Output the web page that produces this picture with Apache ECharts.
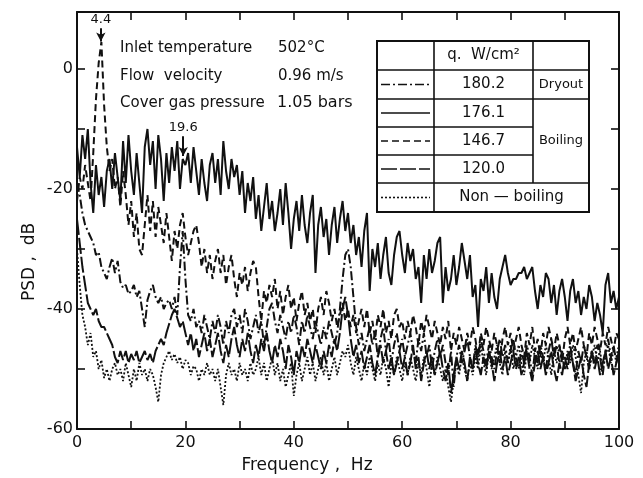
<!DOCTYPE html>
<html>
<head>
<meta charset="utf-8">
<script src="https://cdn.jsdelivr.net/npm/echarts@6/dist/echarts.min.js"></script>
<style>
  html, body { margin: 0; padding: 0; background: #fff; }
  #chart { width: 643px; height: 478px; }
</style>
</head>
<body>
<div id="chart"></div>
<script>
// spectra sampled every 0.5 Hz, 0..100 Hz (dB)
const FREQ_STEP = 0.5

// q = 176.1 W/cm2 (boiling, top curve)
const psd1761 = [
  -13,-18,-11,-15,-10,-19,-24,-16,-21,-18,-23,-17,-15,-20,-14,-18,-22,-12,-19,-11,-17,
  -21,-14,-19,-24,-13,-10,-16,-12,-20,-11,-15,-22,-14,-19,-13,-17,-12,-20,-15,-16,
  -14,-19,-13,-17,-21,-15,-19,-22,-16,-14,-19,-15,-21,-12,-17,-20,-15,-18,-16,-21,
  -17,-24,-19,-22,-18,-25,-21,-27,-23,-19,-25,-22,-27,-24,-20,-26,-19,-24,-30,-25,
  -22,-27,-21,-26,-29,-24,-21,-34,-26,-23,-28,-25,-31,-26,-23,-29,-25,-22,-27,-24,
  -29,-26,-31,-28,-33,-27,-24,-37,-30,-33,-29,-35,-31,-28,-34,-36,-31,-28,-27,-31,
  -34,-29,-32,-30,-35,-33,-39,-31,-35,-30,-34,-32,-29,-28,-39,-33,-37,-35,-31,-36,
  -33,-29,-32,-35,-31,-38,-36,-43,-35,-37,-33,-39,-34,-38,-40,-35,-33,-31,-34,-36,
  -35,-35,-34,-34,-33,-35,-34,-33,-37,-40,-36,-38,-34,-35,-39,-36,-41,-37,-35,-38,
  -42,-37,-35,-39,-37,-41,-38,-40,-36,-38,-42,-39,-41,-44,-36,-34,-39,-37,-40,-38
]
// q = 146.7 W/cm2 (boiling, 4.4 Hz peak)
const psd1467 = [
  -22,-18,-20,-16,-19,-22,-14,-5,1,4.5,-6,-13,-17,-15,-20,-18,-23,-17,-21,-26,-22,
  -28,-24,-30,-31,-26,-21,-27,-22,-28,-23,-26,-29,-24,-28,-32,-27,-30,-26,-24,-28,
  -31,-29,-27,-26,-29,-33,-30,-34,-31,-35,-32,-30,-34,-31,-36,-33,-31,-35,-38,-34,
  -36,-33,-37,-34,-32,-33,-38,-42,-37,-39,-36,-38,-35,-40,-37,-41,-38,-36,-40,-38,
  -42,-39,-37,-41,-39,-42,-40,-44,-40,-38,-41,-37,-39,-42,-40,-43,-41,-39,-42,-40,
  -43,-41,-44,-42,-40,-43,-40,-44,-42,-45,-41,-43,-40,-44,-42,-45,-41,-40,-43,-42,
  -45,-42,-44,-41,-43,-46,-42,-44,-41,-43,-45,-42,-44,-46,-43,-45,-42,-47,-44,-46,
  -43,-45,-47,-44,-46,-43,-45,-48,-44,-46,-43,-45,-47,-44,-46,-49,-45,-43,-46,-44,
  -47,-45,-43,-46,-48,-44,-46,-43,-47,-45,-48,-44,-46,-43,-45,-47,-44,-46,-49,-45,
  -43,-46,-44,-47,-45,-43,-46,-48,-44,-46,-43,-45,-47,-44,-46,-43,-45,-47,-44,-45
]
// q = 180.2 W/cm2 (dryout)
const psd1802 = [
  -19,-21,-24,-26,-27,-28,-29,-31,-30.5,-33,-34,-35,-33,-31.5,-34,-32,-35.5,-36.5,-36,-37.5,-37,
  -36,-38,-37,-40,-43,-38.5,-37,-36,-38,-39,-38,-40,-39,-38.5,-40,-38,-41,-33,-27,-35,
  -41,-42,-40,-43,-42,-44,-41,-43,-45,-42,-44,-41,-43,-46,-42,-44,-41,-40,-43,-41,
  -44,-40,-42,-45,-43,-41,-44,-42,-46,-43,-40,-39,-42,-44,-41,-43,-45,-42,-44,-41,
  -43,-46,-42,-44,-41,-43,-45,-42,-44,-46,-43,-45,-42,-44,-46,-44,-40,-35,-31,-30,
  -33,-38,-43,-46,-44,-47,-45,-43,-46,-44,-48,-45,-43,-47,-45,-49,-46,-44,-47,-45,
  -48,-46,-44,-47,-49,-45,-47,-44,-48,-46,-50,-47,-45,-48,-46,-49,-51,-47,-53,-48,
  -46,-49,-47,-45,-48,-50,-46,-48,-45,-47,-49,-46,-48,-50,-47,-45,-48,-46,-49,-47,
  -45,-48,-50,-47,-49,-46,-48,-51,-47,-49,-46,-48,-50,-47,-45,-48,-46,-49,-47,-50,
  -48,-46,-49,-51,-47,-49,-46,-48,-50,-47,-49,-46,-48,-51,-47,-45,-48,-46,-49,-47
]
// q = 120.0 W/cm2 (boiling)
const psd1200 = [
  -25,-29,-33,-36,-39,-40,-41,-40,-42,-43,-43,-44,-45,-46,-48,-49,-47,-48.5,-47,-49,-47.5,
  -48.5,-47,-49,-48,-47,-48.5,-47.5,-49,-47,-46,-45,-46,-44,-42.5,-41,-40,-41.5,-43,-42,-44,
  -46,-44,-47,-45,-48,-46,-44,-47,-45,-48,-46,-44,-47,-49,-46,-48,-45,-43,-46,-48,
  -45,-47,-44,-47,-49,-46,-48,-45,-47,-44,-47,-49,-46,-48,-45,-47,-50,-46,-48,-51,
  -47,-49,-46,-48,-45,-47,-49,-46,-48,-50,-47,-49,-46,-48,-45,-47,-44,-40,-38,-41,
  -45,-48,-46,-49,-47,-50,-48,-46,-49,-51,-48,-46,-49,-47,-50,-48,-51,-49,-47,-50,
  -48,-51,-49,-46,-50,-48,-52,-49,-47,-50,-48,-51,-49,-47,-50,-52,-49,-54,-51,-48,
  -50,-47,-49,-52,-48,-50,-47,-49,-51,-48,-50,-47,-49,-52,-49,-47,-50,-48,-51,-49,
  -47,-50,-48,-51,-49,-47,-50,-52,-49,-47,-50,-48,-51,-49,-47,-50,-52,-49,-51,-48,
  -50,-47,-49,-52,-50,-48,-51,-53,-49,-47,-50,-48,-51,-49,-47,-50,-48,-51,-49,-47
]
// non-boiling
const psdNonBoil = [
  -30,-36,-41,-43,-46,-44,-48,-47,-50,-48.5,-51.5,-50,-52,-50,-49,-51,-50,-52,-49,-51,-53,
  -50,-52,-49,-51,-50,-52,-50,-51,-53,-55.5,-51,-49,-48,-47,-48.5,-47.5,-49,-48,-50,-48.5,
  -49,-51,-49.5,-50,-52,-50,-51,-49,-51,-50,-52,-50,-53,-56,-51,-49,-51,-50,-52,-49,
  -51,-50,-52,-49,-51,-50,-48,-51,-49,-52,-50,-48,-51,-49,-52,-50,-53,-51,-49,-54.5,
  -51,-49,-52,-50,-48,-51,-49,-52,-50,-48,-51,-49,-52,-50,-48,-51,-49,-47,-48,-46,
  -49,-51,-48,-50,-52,-49,-51,-48,-50,-52,-49,-51,-48,-50,-53,-49,-51,-48,-50,-52,
  -49,-51,-48,-50,-52,-49,-51,-48,-50,-53,-49,-51,-48,-50,-52,-50,-53,-55.5,-52,-49,
  -51,-48,-50,-52,-49,-51,-48,-50,-46,-49,-51,-47,-50,-48,-46,-49,-51,-47,-49,-46,
  -50,-48,-46,-49,-51,-47,-49,-46,-48,-50,-47,-49,-46,-48,-51,-47,-49,-46,-48,-50,
  -47,-49,-46,-48,-51,-54,-49,-47,-50,-48,-46,-49,-47,-50,-48,-46,-49,-47,-48,-46
]

const fluxLabels = ['180.2', '176.1', '146.7', '120.0']
const peakMarks = [4.4, 19.6]

const FONT = 'DejaVu Sans'
const INK = '#111'

const toPairs = arr => arr.map((v, i) => [i * FREQ_STEP, v])

const myChart = echarts.init(document.getElementById('chart'))

const lineSeries = (name, data, type, width, extra) => Object.assign({
  name: name,
  type: 'line',
  data: toPairs(data),
  showSymbol: false,
  symbol: 'none',
  animation: false,
  silent: true,
  lineStyle: { color: INK, width: width, type: type }
}, extra || {})

const arrowMark = (x, yFrom, yTo, text) => ({
  silent: true,
  animation: false,
  symbol: ['none', 'arrow'],
  symbolSize: [7, 9],
  lineStyle: { color: INK, width: 2, type: 'solid' },
  label: { show: true, position: 'start', formatter: text, color: INK, fontFamily: FONT, fontSize: 13, distance: 2 },
  data: [[{ coord: [x, yFrom] }, { coord: [x, yTo] }]]
})

// legend table geometry (pixels)
const tx = [377, 434, 533, 589]
const ty = [41, 70, 99, 127, 155, 183, 212]
const rowMid = i => (ty[i] + ty[i + 1]) / 2

const hLine = (x1, x2, y) => ({ type: 'line', shape: { x1, y1: y, x2, y2: y }, style: { stroke: INK, lineWidth: 1.6 } })
const vLine = (x, y1, y2) => ({ type: 'line', shape: { x1: x, y1, x2: x, y2 }, style: { stroke: INK, lineWidth: 1.6 } })
const txt = (x, y, s, size, align) => ({
  type: 'text', x, y,
  style: { text: s, fill: INK, font: (size || 15) + 'px "' + FONT + '"', align: align || 'center', verticalAlign: 'middle' }
})
const sample = (i, dash) => ({
  type: 'line', shape: { x1: tx[0] + 4, y1: rowMid(i), x2: tx[1] - 4, y2: rowMid(i) },
  style: { stroke: INK, lineWidth: 1.6, lineDash: dash }
})

const graphics = [
  { type: 'rect', shape: { x: tx[0], y: ty[0], width: tx[3] - tx[0], height: ty[6] - ty[0] },
    style: { fill: '#fff', stroke: INK, lineWidth: 2 } },
  vLine(tx[1], ty[0], ty[6]),
  vLine(tx[2], ty[0], ty[5]),
  hLine(tx[0], tx[3], ty[1]),
  hLine(tx[0], tx[3], ty[2]),
  hLine(tx[0], tx[2], ty[3]),
  hLine(tx[0], tx[2], ty[4]),
  hLine(tx[0], tx[3], ty[5]),
  txt((tx[1] + tx[2]) / 2, rowMid(0), 'q.  W/cm²', 15),
  txt((tx[1] + tx[2]) / 2, rowMid(1), fluxLabels[0], 15),
  txt((tx[1] + tx[2]) / 2, rowMid(2), fluxLabels[1], 15),
  txt((tx[1] + tx[2]) / 2, rowMid(3), fluxLabels[2], 15),
  txt((tx[1] + tx[2]) / 2, rowMid(4), fluxLabels[3], 15),
  txt((tx[2] + tx[3]) / 2, rowMid(1), 'Dryout', 13),
  txt((tx[2] + tx[3]) / 2, rowMid(3), 'Boiling', 13),
  txt((tx[1] + tx[3]) / 2, rowMid(5), 'Non — boiling', 15),
  sample(1, [9, 3, 2, 3]),
  sample(2, null),
  sample(3, [7, 4]),
  sample(4, [16, 3]),
  sample(5, [2, 2]),
  // run conditions
  txt(120, 48, 'Inlet temperature', 15, 'left'),
  txt(278, 48, '502°C', 15, 'left'),
  txt(120, 76, 'Flow  velocity', 15, 'left'),
  txt(278, 76, '0.96 m/s', 15, 'left'),
  txt(120, 103, 'Cover gas pressure', 15, 'left'),
  txt(277, 103, '1.05 bars', 16, 'left'),
  // axis titles
  txt(307, 466, 'Frequency ,  Hz', 17),
  { type: 'text', x: 30, y: 262, rotation: Math.PI / 2,
    style: { text: 'PSD ,  dB', fill: INK, font: '17px "' + FONT + '"', align: 'center', verticalAlign: 'middle' } }
]

const axisCommon = {
  type: 'value',
  splitLine: { show: false },
  axisLine: { show: true, onZero: false, lineStyle: { color: INK, width: 2 } },
  axisTick: { show: true, inside: true, length: 8, lineStyle: { color: INK, width: 1.6 } }
}
const labelEvery20 = v => (v % 20 === 0 ? String(v) : '')

const options = {
  backgroundColor: '#fff',
  animation: false,
  grid: { left: 77, right: 24, top: 12, bottom: 49, containLabel: false },
  xAxis: [
    Object.assign({}, axisCommon, {
      min: 0, max: 100, interval: 10, position: 'bottom',
      axisLabel: { formatter: labelEvery20, color: INK, fontFamily: FONT, fontSize: 16, margin: 6 }
    }),
    Object.assign({}, axisCommon, {
      min: 0, max: 100, interval: 10, position: 'top',
      axisLabel: { show: false }
    })
  ],
  yAxis: [
    Object.assign({}, axisCommon, {
      min: -60, max: 9.5, interval: 10, position: 'left',
      axisLabel: { formatter: labelEvery20, color: INK, fontFamily: FONT, fontSize: 16, margin: 4 }
    }),
    Object.assign({}, axisCommon, {
      min: -60, max: 9.5, interval: 10, position: 'right',
      axisLabel: { show: false }
    })
  ],
  series: [
    lineSeries('Non-boiling', psdNonBoil, [2, 2], 1.8),
    lineSeries('120.0', psd1200, [16, 3], 2),
    lineSeries('180.2', psd1802, [9, 3, 2, 3], 2),
    lineSeries('146.7', psd1467, [7, 4], 2, { markLine: arrowMark(peakMarks[0], 6.8, 4.6, '4.4') }),
    lineSeries('176.1', psd1761, 'solid', 2, { markLine: arrowMark(peakMarks[1], -11.2, -14.5, '19.6') })
  ],
  graphic: graphics
}
myChart.setOption(options)
</script>
</body>
</html>
